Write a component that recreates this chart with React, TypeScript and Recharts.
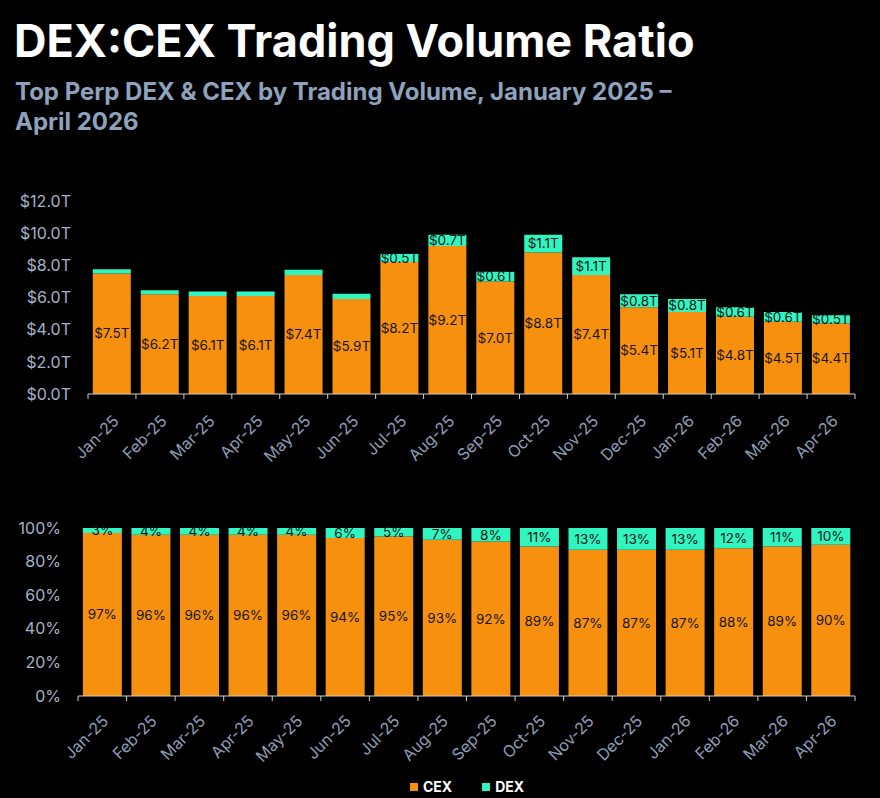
import { Bar, BarChart, LabelList, XAxis, YAxis } from "recharts"

const months = [
  "Jan-25", "Feb-25", "Mar-25", "Apr-25", "May-25", "Jun-25", "Jul-25", "Aug-25",
  "Sep-25", "Oct-25", "Nov-25", "Dec-25", "Jan-26", "Feb-26", "Mar-26", "Apr-26",
]
const cexVolume = [7.5, 6.2, 6.1, 6.1, 7.4, 5.9, 8.2, 9.2, 7.0, 8.8, 7.4, 5.4, 5.1, 4.8, 4.5, 4.4]
const dexVolume = [0.25, 0.25, 0.27, 0.27, 0.33, 0.33, 0.5, 0.7, 0.6, 1.1, 1.1, 0.8, 0.8, 0.6, 0.6, 0.5]
const cexShare = [97, 96, 96, 96, 96, 94, 95, 93, 92, 89, 87, 87, 87, 88, 89, 90]
const dexShare = [3, 4, 4, 4, 4, 6, 5, 7, 8, 11, 13, 13, 13, 12, 11, 10]
const volumeTicks = [0, 2, 4, 6, 8, 10, 12]
const shareTicks = [0, 20, 40, 60, 80, 100]

const volumeData = months.map((m, i) => ({ month: m, cex: cexVolume[i], dex: dexVolume[i] }))
const shareData = months.map((m, i) => ({ month: m, cex: cexShare[i], dex: dexShare[i] }))

const ORANGE = "#F7900E"
const GREEN = "#30F5C0"
const FONT = "Inter, 'Noto Sans', sans-serif"
const AXIS_TEXT = "#a6b3c8"
const LABEL_TEXT = "#151515"

// category boundary tick marks + rotated month labels
const makeTick = (bandWidth: number, count: number, dx: number, dy: number) => (props: any) => {
  const { x, y, payload, index } = props
  return (
    <g>
      <line x1={x - bandWidth / 2} x2={x - bandWidth / 2} y1={y} y2={y + 5} stroke="#cfcfcf" />
      {index === count - 1 && (
        <line x1={x + bandWidth / 2} x2={x + bandWidth / 2} y1={y} y2={y + 5} stroke="#cfcfcf" />
      )}
      <text
        x={x + dx}
        y={y + dy}
        transform={`rotate(-45, ${x + dx}, ${y + dy})`}
        textAnchor="end"
        fill="#8d9db6"
        fontSize={16}
        fontFamily={FONT}
      >
        {payload.value}
      </text>
    </g>
  )
}

export default function App() {
  const topBand = (880 - 25 - 88) / months.length
  const bottomBand = (880 - 25 - 78) / months.length

  return (
    <div
      style={{
        position: "absolute",
        left: 0,
        top: 0,
        width: 880,
        height: 798,
        background: "#000",
        fontFamily: FONT,
        overflow: "hidden",
      }}
    >
      <div
        style={{
          position: "absolute",
          left: 14,
          top: 14,
          color: "#fff",
          fontSize: 45,
          fontWeight: 700,
          lineHeight: "54px",
          whiteSpace: "nowrap",
        }}
      >
        DEX:CEX Trading Volume Ratio
      </div>
      <div
        style={{
          position: "absolute",
          left: 15,
          top: 77,
          color: "#8fa2bd",
          fontSize: 24,
          fontWeight: 700,
          lineHeight: "30px",
          whiteSpace: "nowrap",
        }}
      >
        Top Perp DEX &amp; CEX by Trading Volume, January 2025 –
        <br />
        April 2026
      </div>

      <div style={{ position: "absolute", left: 0, top: 180 }}>
        <BarChart
          width={880}
          height={300}
          data={volumeData}
          margin={{ top: 21, right: 25, left: 8, bottom: 0 }}
        >
          <XAxis
            dataKey="month"
            interval={0}
            height={86}
            tickLine={false}
            tickSize={0}
            tickMargin={0}
            axisLine={{ stroke: "#cfcfcf" }}
            tick={makeTick(topBand, months.length, 8, 28)}
          />
          <YAxis
            width={80}
            domain={[0, 12]}
            ticks={volumeTicks}
            axisLine={false}
            tickLine={false}
            tickMargin={11}
            tick={{ fill: AXIS_TEXT, fontSize: 16, fontFamily: FONT }}
            tickFormatter={(v: number) => `$${v.toFixed(1)}T`}
          />
          <Bar dataKey="cex" stackId="v" fill={ORANGE} isAnimationActive={false}>
            <LabelList
              dataKey="cex"
              position="center"
              fill={LABEL_TEXT}
              fontSize={13.5}
              fontFamily={FONT}
              formatter={(v: any) => `$${Number(v).toFixed(1)}T`}
            />
          </Bar>
          <Bar dataKey="dex" stackId="v" fill={GREEN} isAnimationActive={false}>
            <LabelList
              dataKey="dex"
              position="center"
              fill={LABEL_TEXT}
              fontSize={13.5}
              fontFamily={FONT}
              formatter={(v: any) => (Number(v) >= 0.5 ? `$${Number(v).toFixed(1)}T` : "")}
            />
          </Bar>
        </BarChart>
      </div>

      <div style={{ position: "absolute", left: 0, top: 500 }}>
        <BarChart
          width={880}
          height={270}
          data={shareData}
          margin={{ top: 28, right: 25, left: 8, bottom: 0 }}
        >
          <XAxis
            dataKey="month"
            interval={0}
            height={74}
            tickLine={false}
            tickSize={0}
            tickMargin={0}
            axisLine={{ stroke: "#cfcfcf" }}
            tick={makeTick(bottomBand, months.length, 7, 26)}
          />
          <YAxis
            width={70}
            domain={[0, 100]}
            ticks={shareTicks}
            axisLine={false}
            tickLine={false}
            tickMargin={11}
            tick={{ fill: AXIS_TEXT, fontSize: 16, fontFamily: FONT }}
            tickFormatter={(v: number) => `${v}%`}
          />
          <Bar dataKey="cex" stackId="s" fill={ORANGE} isAnimationActive={false}>
            <LabelList
              dataKey="cex"
              position="center"
              fill={LABEL_TEXT}
              fontSize={13.5}
              fontFamily={FONT}
              formatter={(v: any) => `${v}%`}
            />
          </Bar>
          <Bar dataKey="dex" stackId="s" fill={GREEN} isAnimationActive={false}>
            <LabelList
              dataKey="dex"
              position="center"
              fill={LABEL_TEXT}
              fontSize={13.5}
              fontFamily={FONT}
              formatter={(v: any) => `${v}%`}
            />
          </Bar>
        </BarChart>
      </div>

      <div
        style={{
          position: "absolute",
          left: 27,
          width: 880,
          top: 778,
          display: "flex",
          justifyContent: "center",
          gap: 30,
          color: "#fff",
          fontSize: 14,
          fontWeight: 700,
        }}
      >
        <span style={{ display: "flex", alignItems: "center", gap: 5 }}>
          <span style={{ width: 8, height: 8, background: ORANGE, display: "inline-block" }} />
          CEX
        </span>
        <span style={{ display: "flex", alignItems: "center", gap: 5 }}>
          <span style={{ width: 8, height: 8, background: GREEN, display: "inline-block" }} />
          DEX
        </span>
      </div>
    </div>
  )
}
